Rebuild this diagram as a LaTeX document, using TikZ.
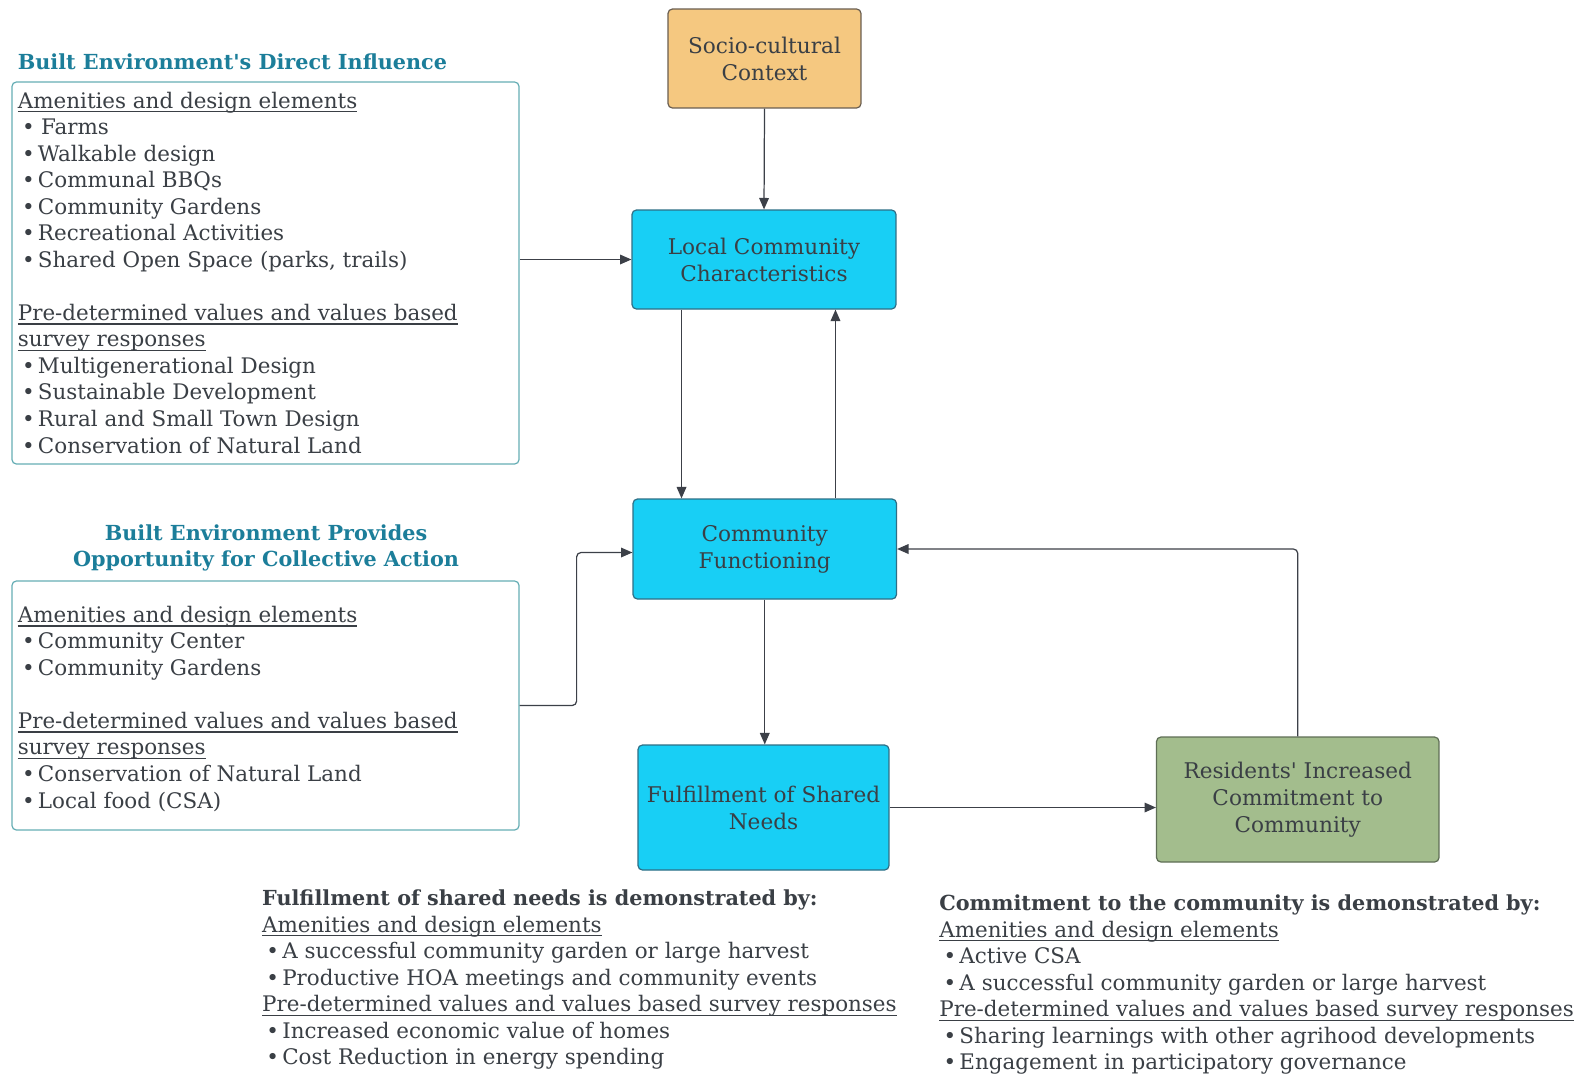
\documentclass[tikz,border=0pt]{standalone}
\usepackage{fontspec}
\setmainfont{DejaVu Serif}[Ligatures=TeXOff]
\usetikzlibrary{arrows.meta,fit}

\definecolor{ink}{HTML}{3A3F45}
\definecolor{teal}{HTML}{1C7E9A}
\definecolor{frameline}{HTML}{66AEB5}
\definecolor{sand}{HTML}{F5C880}
\definecolor{sandline}{HTML}{6A5E50}
\definecolor{sky}{HTML}{18CFF5}
\definecolor{skyline}{HTML}{2E6F86}
\definecolor{sage}{HTML}{A3BD8D}
\definecolor{sageline}{HTML}{5E6E55}
\definecolor{wire}{HTML}{3C4048}

% underline that cuts through descenders
\newcommand{\undl}[1]{\setbox0\hbox{#1}\rlap{\rule[-0.2em]{\wd0}{0.06em}}\box0}
% bullet item
\newcommand{\itm}[1]{\hspace*{0.2em}\textbullet\hspace{0.15em}#1}
% bold lead line of a note block
\newcommand{\lead}[1]{{\fontsize{11.8}{15.1}\selectfont\bfseries #1}}

\tikzset{
  body/.style={font=\fontsize{12.2}{15.1}\selectfont, text=ink, inner sep=0pt, align=left},
  heading/.style={font=\fontsize{11.8}{14.8}\selectfont\bfseries, text=teal, inner sep=0pt},
  framebox/.style={draw=frameline, line width=0.7pt, rounded corners=2.5pt, inner sep=0pt},
  flowbox/.style={rounded corners=2.5pt, line width=0.7pt, align=center, text=ink,
    font=\fontsize{12.3}{15.4}\selectfont, inner sep=0pt},
  conn/.style={draw=wire, line width=0.7pt, rounded corners=2.5pt,
    -{Triangle[length=6.5pt, width=5.5pt]}},
}

\begin{document}
\begin{tikzpicture}[x=0.02cm, y=-0.02cm]
\useasboundingbox (0,0) rectangle (1581,1073);
\fill[white] (0,0) rectangle (1581,1073);

% ---- left column: direct influence ----
\node[heading, anchor=base west] (t1) at (17.5,69.5) {Built Environment's Direct Influence};
\node[framebox, fit={(12,82) (519,464)}] (box1) {};
% multi-line nodes sit on the baseline of their last line
\node[body, anchor=base west] (b1) at (17.5,453) {%
\undl{Amenities and design elements}\\
\itm{\hspace{0.15em}Farms}\\
\itm{Walkable design}\\
\itm{Communal BBQs}\\
\itm{Community Gardens}\\
\itm{Recreational Activities}\\
\itm{Shared Open Space (parks, trails)}\\[15.1pt]
\undl{Pre-determined values and values based}\\
\undl{survey responses}\\
\itm{Multigenerational Design}\\
\itm{Sustainable Development}\\
\itm{Rural and Small Town Design}\\
\itm{Conservation of Natural Land}};

% ---- left column: collective action ----
\node[heading, align=center, anchor=base] (t2) at (266,566.7)
  {Built Environment Provides\\Opportunity for Collective Action};
\node[framebox, fit={(12,581) (519,830)}] (box2) {};
\node[body, anchor=base west] (b2) at (17.5,808) {%
\undl{Amenities and design elements}\\
\itm{Community Center}\\
\itm{Community Gardens}\\[15.1pt]
\undl{Pre-determined values and values based}\\
\undl{survey responses}\\
\itm{Conservation of Natural Land}\\
\itm{Local food (CSA)}};

% ---- central flow ----
\node[flowbox, fill=sand, draw=sandline, minimum width=3.86cm, minimum height=1.98cm]
  (socio) at (764.5,58.5) {Socio-cultural\\Context};
\node[flowbox, fill=sky, draw=skyline, minimum width=5.28cm, minimum height=1.98cm]
  (local) at (764,259.5) {Local Community\\Characteristics};
\node[flowbox, fill=sky, draw=skyline, minimum width=5.27cm, minimum height=2.0cm]
  (cf) at (764.75,549) {Community\\Functioning};
\node[flowbox, fill=sky, draw=skyline, minimum width=5.02cm, minimum height=2.5cm]
  (fulf) at (763.5,807.5) {Fulfillment of Shared\\Needs};
\node[flowbox, fill=sage, draw=sageline, minimum width=5.65cm, minimum height=2.5cm]
  (res) at (1297.75,799.5) {Residents' Increased\\Commitment to\\Community};

% ---- connectors ----
\draw[conn] (socio.south) -- (local.north);
\draw[conn] (box1.east |- local.west) -- (local.west);
\draw[conn] ([xshift=-1.65cm]local.south) -- ([xshift=-1.65cm]local.south |- cf.north);
\draw[conn] ([xshift=1.415cm]cf.north) -- ([xshift=1.415cm]cf.north |- local.south);
\draw[conn] (box2.east) -- ++(57,0) |- ([yshift=-0.07cm]cf.west);
\draw[conn] (cf.south) -- (cf.south |- fulf.north);
\draw[conn] (fulf.east) -- (fulf.east -| res.west);
\draw[conn] (res.north) |- (cf.east);

% ---- bottom notes ----
\node[body, anchor=base west] (na) at (261.8,1064.8) {%
\lead{Fulfillment of shared needs is demonstrated by:}\\
\undl{Amenities and design elements}\\
\itm{A successful community garden or large harvest}\\
\itm{Productive HOA meetings and community events}\\
\undl{Pre-determined values and values based survey responses}\\
\itm{Increased economic value of homes}\\
\itm{Cost Reduction in energy spending}};
\node[body, anchor=base west] (nb) at (939,1069.8) {%
\lead{Commitment to the community is demonstrated by:}\\
\undl{Amenities and design elements}\\
\itm{Active CSA}\\
\itm{A successful community garden or large harvest}\\
\undl{Pre-determined values and values based survey responses}\\
\itm{Sharing learnings with other agrihood developments}\\
\itm{Engagement in participatory governance}};
\end{tikzpicture}
\end{document}
